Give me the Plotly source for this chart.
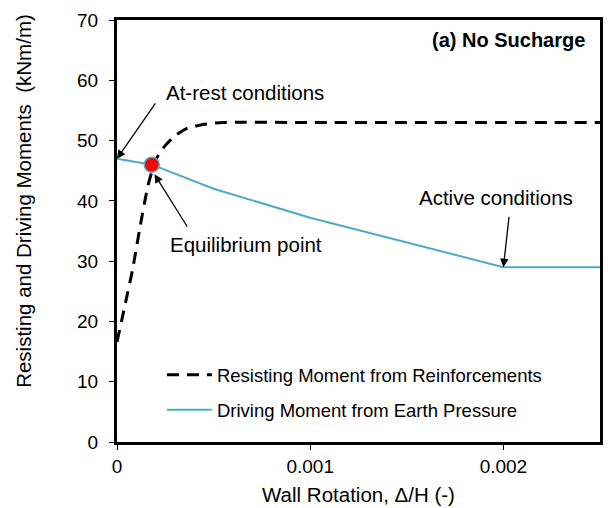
import plotly.graph_objects as go

# Resisting moment from reinforcements (dashed)
res_x = [0.0, 0.00004, 0.00008, 0.00012, 0.00016, 0.0002, 0.00025, 0.0003, 0.00036, 0.00045, 0.00055, 0.001, 0.0015, 0.002, 0.0025]
res_y = [16.6, 22.5, 28.5, 35.8, 42.5, 46.8, 49.2, 50.8, 52.0, 52.7, 53.0, 53.0, 53.0, 53.0, 53.0]

# Driving moment from earth pressure (solid cyan)
drv_x = [0.0, 0.00018, 0.0005, 0.001, 0.002, 0.0025]
drv_y = [47.0, 46.0, 42.0, 37.2, 29.0, 29.0]

# Equilibrium point
eq_x = [0.00018]
eq_y = [46.0]

x_ticks = [0, 0.001, 0.002]
x_tick_text = ["0", "0.001", "0.002"]
y_ticks = [0, 10, 20, 30, 40, 50, 60, 70]

FONT = "Liberation Sans, Arial, sans-serif"
CYAN = "#4BACC6"

fig = go.Figure()
fig.add_trace(go.Scatter(x=res_x, y=res_y, mode="lines", legendgroup="a",
                         name="Resisting Moment from Reinforcements",
                         line=dict(color="black", width=3, dash="12px,8px", shape="spline", smoothing=0.45)))
fig.add_trace(go.Scatter(x=drv_x, y=drv_y, mode="lines", legendgroup="b",
                         name="Driving Moment from Earth Pressure",
                         line=dict(color=CYAN, width=2)))
fig.add_trace(go.Scatter(x=eq_x, y=eq_y, mode="markers", showlegend=False,
                         marker=dict(color="red", size=15, line=dict(color=CYAN, width=1.5))))

ann_font = dict(family=FONT, size=20.5, color="black")
arrow = dict(showarrow=True, arrowhead=2, arrowsize=1.3, arrowwidth=1.3, arrowcolor="black", text="",
             xref="x", yref="y", axref="x", ayref="y")
annotations = [
    dict(x=0.0, y=47.0, ax=0.000204, ay=56.4, **arrow),
    dict(x=0.000664, y=57.9, xref="x", yref="y", text="At-rest conditions", showarrow=False,
         font=ann_font, xanchor="center", yanchor="middle"),
    dict(x=0.000194, y=44.4, ax=0.000368, ay=35.5, **arrow),
    dict(x=0.00067, y=32.7, xref="x", yref="y", text="Equilibrium point", showarrow=False,
         font=ann_font, xanchor="center", yanchor="middle"),
    dict(x=0.002, y=29.0, ax=0.00203, ay=37.6, **arrow),
    dict(x=0.00196, y=40.5, xref="x", yref="y", text="Active conditions", showarrow=False,
         font=ann_font, xanchor="center", yanchor="middle"),
    dict(x=0.002432, y=66.7, xref="x", yref="y", text="<b>(a) No Sucharge</b>", showarrow=False,
         font=dict(family=FONT, size=20, color="black"), xanchor="right", yanchor="middle"),
    dict(x=-0.195, y=0.571, xref="paper", yref="paper", text="Resisting and Driving Moments  (kNm/m)",
         showarrow=False, textangle=-90, font=ann_font, xanchor="center", yanchor="middle"),
]

fig.update_layout(
    width=608, height=508,
    margin=dict(l=117, r=5, t=20, b=66),
    paper_bgcolor="white", plot_bgcolor="white",
    font=dict(family=FONT, size=19, color="black"),
    showlegend=True,
    legend=dict(x=0.093, y=0.117, xanchor="left", yanchor="middle", bgcolor="rgba(0,0,0,0)",
                font=dict(family=FONT, size=18.5, color="black"), tracegroupgap=8, itemwidth=45),
    annotations=annotations,
)
fig.update_xaxes(range=[0, 0.0025], tickvals=x_ticks, ticktext=x_tick_text,
                 showgrid=False, zeroline=False, showline=True, linecolor="black", linewidth=3,
                 mirror=True, ticks="outside", ticklen=5, tickcolor="black",
                 tickfont=dict(family=FONT, size=19, color="black"),
                 title=dict(text="Wall Rotation, Δ/H (-)", font=ann_font, standoff=12))
fig.update_yaxes(range=[0, 70], tickvals=y_ticks,
                 showgrid=False, zeroline=False, showline=True, linecolor="black", linewidth=3,
                 mirror=True, ticks="outside", ticklen=5, tickcolor="black", ticklabelstandoff=7,
                 tickfont=dict(family=FONT, size=19, color="black"))

fig.write_html("out.html")
